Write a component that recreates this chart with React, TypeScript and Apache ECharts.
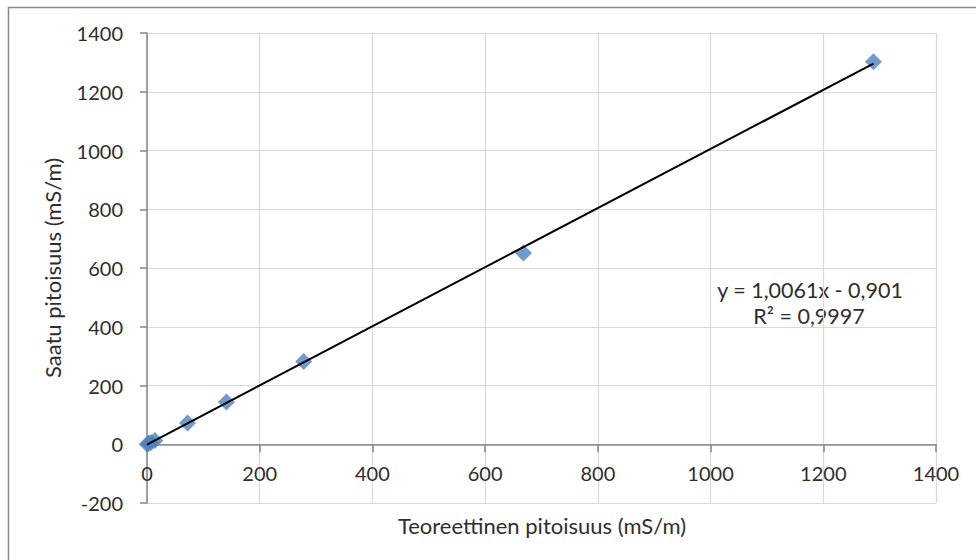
import React, { useEffect, useRef } from "react";
import * as echarts from "echarts";

const measuredX = [0.5, 3, 7, 14, 72, 141, 278, 668, 1289];
const measuredY = [0, 3, 6, 13, 72, 144, 282, 651, 1302];
const trendSlope = 1.0061;
const trendIntercept = -0.901;
const equationLines = ["y = 1,0061x - 0,901", "R² = 0,9997"];
const xTitle = "Teoreettinen pitoisuus (mS/m)";
const yTitle = "Saatu pitoisuus (mS/m)";

const FONT = "Lato, 'Open Sans', sans-serif";
const TXT = "#2e2e2e";
const FS = 20;
const FS_TITLE = 22;
const FS_EQ = 21.5;
const Y_MIN = -200;
const Y_MAX = 1400;
const GRID_TOP = 33;
const GRID_BOTTOM = 57;
const H = 560;

export default function App() {
  const ref = useRef<HTMLDivElement>(null);
  useEffect(() => {
    if (!ref.current) return;
    const chart = echarts.init(ref.current, undefined, { renderer: "svg" });
    const points = measuredX.map((x, i) => [x, measuredY[i]]);
    const xMax = Math.max(...measuredX);
    const trend = [
      [0, trendIntercept],
      [xMax, trendSlope * xMax + trendIntercept],
    ];
    const gridH = H - GRID_TOP - GRID_BOTTOM;
    const zeroOffset = -((0 - Y_MIN) / (Y_MAX - Y_MIN)) * gridH;
    chart.setOption({
      animation: false,
      backgroundColor: "#fff",
      textStyle: { fontFamily: FONT },
      grid: { left: 147, right: 40, top: GRID_TOP, bottom: GRID_BOTTOM, containLabel: false, outerBoundsMode: "none" },
      xAxis: {
        type: "value",
        min: 0,
        max: 1400,
        interval: 200,
        position: "bottom",
        offset: zeroOffset,
        axisLine: { show: true, onZero: false, lineStyle: { color: "#868686", width: 1.5 } },
        axisTick: { show: true, length: 8, lineStyle: { color: "#868686", width: 1.5 } },
        axisLabel: { fontSize: FS, color: TXT, margin: 19, fontFamily: FONT, formatter: (v: number) => String(v) },
        splitLine: { show: true, lineStyle: { color: "#d9d9d9", width: 1.2 } },
      },
      yAxis: {
        type: "value",
        min: Y_MIN,
        max: Y_MAX,
        interval: 200,
        name: yTitle,
        nameLocation: "middle",
        nameGap: 84,
        nameRotate: 90,
        nameTextStyle: { fontSize: FS_TITLE, color: TXT, fontFamily: FONT },
        axisLine: { show: true, onZero: false, lineStyle: { color: "#868686", width: 1.5 } },
        axisTick: { show: true, length: 7, lineStyle: { color: "#868686", width: 1.5 } },
        axisLabel: { fontSize: FS, color: TXT, margin: 24, fontFamily: FONT, formatter: (v: number) => String(v) },
        splitLine: { show: true, lineStyle: { color: "#d9d9d9", width: 1.2 } },
      },
      series: [
        {
          type: "scatter",
          data: points,
          symbol: "diamond",
          symbolSize: 17,
          itemStyle: { color: "#4F81BD" },
          z: 2,
        },
        {
          type: "line",
          data: trend,
          symbol: "none",
          lineStyle: { color: "#000", width: 2 },
          z: 3,
        },
      ],
      graphic: [
        {
          type: "rect",
          shape: { x: 8.5, y: 7.5, width: 1100, height: 700 },
          style: { fill: "none", stroke: "#8a8a8a", lineWidth: 1.5 },
          silent: true,
        },
        {
          type: "text",
          x: 542,
          y: 525,
          style: {
            text: xTitle,
            fontSize: FS_TITLE,
            fontFamily: FONT,
            fill: TXT,
            align: "center",
            verticalAlign: "middle",
          },
        },
        {
          type: "text",
          x: 810,
          y: 290,
          style: {
            text: equationLines[0],
            fontSize: FS_EQ,
            fontFamily: FONT,
            fill: TXT,
            align: "center",
            verticalAlign: "middle",
          },
        },
        {
          type: "text",
          x: 809,
          y: 316,
          style: {
            text: equationLines[1],
            fontSize: FS_EQ,
            fontFamily: FONT,
            fill: TXT,
            align: "center",
            verticalAlign: "middle",
          },
        },
      ],
    });
    return () => chart.dispose();
  }, []);
  return (
    <div
      ref={ref}
      style={{ position: "fixed", left: 0, top: 0, width: 976, height: 560 }}
    />
  );
}
